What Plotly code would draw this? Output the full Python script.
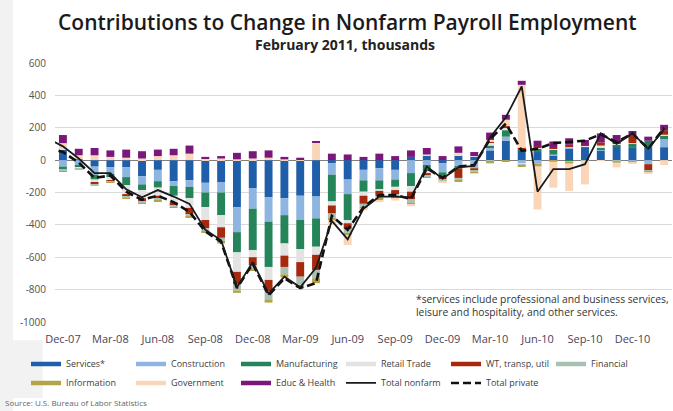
import pandas as pd
import plotly.graph_objects as go

# Monthly labels, Nov-07 .. Feb-11 (Nov-07 only carries the line values)
months = list(pd.date_range("2007-11-01", periods=40, freq="MS").strftime("%b-%y"))
bar_months = months[1:]

tick_labels = ["Dec-07", "Mar-08", "Jun-08", "Sep-08", "Dec-08", "Mar-09", "Jun-09",
               "Sep-09", "Dec-09", "Mar-10", "Jun-10", "Sep-10", "Dec-10"]

# Contributions by sector, thousands (Dec-07 .. Feb-11)
services = [65, 5, -40, -45, -45, -100, -60, -130, -125, -140, -135, -290, -175, -230, -235, -220,
            -225, -20, -120, -60, -50, -60, 20, 30, -20, 30, 20, 60, 120, 60, 50, 30, 70, 80, 60,
            85, 80, 80, 80]
construction = [-40, -30, -50, -40, -60, -50, -70, -30, -40, -60, -65, -155, -125, -150, -105, -150,
                -135, -70, -90, -65, -75, -60, -80, -30, -55, -40, -50, 15, 25, -20, -20, 5, 5, 0, 5,
                -5, -10, -25, 50]
manufacturing = [-20, -15, -30, -20, -50, -35, -40, -60, -70, -90, -140, -125, -255, -280, -175, -180,
                 -175, -165, -160, -70, -55, -45, -80, -40, -25, -10, 0, 15, 40, 10, 20, 30, -10, 5,
                 10, 10, 20, 40, 25]
retail = [5, -5, -20, -20, -55, -50, -50, -40, -60, -80, -75, -120, -45, -80, -75, -80, -50, -25, -20,
          -25, -10, -20, -35, -10, -10, 5, 5, 20, 15, -5, 5, 5, 5, 5, 15, 5, 5, 0, 2]
wt_transp_util = [0, 0, -10, -8, -15, -20, -20, -20, -40, -50, -65, -75, -50, -70, -70, -90, -95, -50,
                  -35, -50, -30, -25, -45, -15, -10, -60, -15, 5, 10, 5, 10, 10, 15, 5, 20, 5, 45,
                  -40, 28]
financial = [-8, -5, -5, -5, -10, -10, -10, -10, -15, -20, -25, -40, -25, -50, -45, -50, -50, -30, -25,
             -20, -20, -20, -25, -10, -10, -15, -10, -10, -5, -10, -10, -5, -5, -5, 0, -5, 0, -5, 0]
information = [-2, 0, 0, -2, -3, -3, -3, -5, -5, -8, -10, -15, -10, -20, -20, -20, -30, -10, -15, -10,
               -10, -10, -10, -5, -5, -5, -5, -10, -5, -5, -10, -5, -5, 0, 0, -5, -5, -5, 0]
government = [35, 25, 30, 20, 15, 10, 25, 30, 40, 10, 10, 5, 10, 15, 5, 5, 110, -30, -60, -10, -10,
              -10, -10, 5, -5, 10, -5, 10, 40, 390, -265, -160, -170, -145, -5, -30, -5, -5, -30]
educ_health = [50, 40, 45, 40, 50, 45, 40, 40, 50, 10, 15, 40, 45, 45, 15, 10, 5, 40, 35, 20, 40, 25,
               40, 40, 25, 40, 25, 45, 30, 25, 35, 35, 40, 30, 55, 50, 30, 25, 33]

# Totals, thousands (Nov-07 .. Feb-11)
total_nonfarm = [135, 85, 10, -80, -80, -180, -230, -185, -225, -270, -430, -495, -785, -630, -825,
                 -720, -785, -665, -375, -490, -300, -225, -225, -230, -40, -115, -45, -35, 140, 265,
                 455, -195, -55, -55, -25, 165, 100, 165, 70, 190]
total_private = [80, 50, -15, -110, -95, -195, -245, -220, -260, -320, -440, -505, -790, -640, -835,
                 -730, -790, -760, -345, -430, -290, -215, -215, -240, -50, -110, -40, -30, 130, 225,
                 58, 70, 105, 112, 120, 160, 110, 165, 70, 200]

series = [
    ("Services*", services, "#1f5ea8"),
    ("Construction", construction, "#8eb4e0"),
    ("Manufacturing", manufacturing, "#25845a"),
    ("Retail Trade", retail, "#e3e3e3"),
    ("WT, transp, util", wt_transp_util, "#a6290d"),
    ("Financial", financial, "#a9c1b5"),
    ("Information", information, "#b3a445"),
    ("Government", government, "#fbd5b7"),
    ("Educ & Health", educ_health, "#7a177b"),
]

fig = go.Figure()

for name, vals, color in series:
    fig.add_trace(go.Bar(x=bar_months, y=vals, name=name, width=0.5,
                         marker=dict(color=color, line=dict(width=0)),
                         legendgroup=name, showlegend=False))

# legend swatches drawn as thick lines
for rank, (name, vals, color) in enumerate(series, start=1):
    fig.add_trace(go.Scatter(x=[None], y=[None], mode="lines", name=name,
                             line=dict(color=color, width=4.5),
                             legendgroup=name, legendrank=rank))

fig.add_trace(go.Scatter(x=months, y=total_private, mode="lines", name="Total private",
                         line=dict(color="#111111", width=2.6, dash="8px,4px"), legendrank=11))
fig.add_trace(go.Scatter(x=months, y=total_nonfarm, mode="lines", name="Total nonfarm",
                         line=dict(color="#1a1a1a", width=1.8), legendrank=10))

y_ticks = list(range(-1000, 601, 200))

# faint slide backdrop along the left edge
backdrop = [
    dict(type="rect", xref="paper", yref="paper", layer="below", line=dict(width=0),
         fillcolor="#f2f2f2", x0=-0.0891, x1=-0.068, y0=-0.35, y1=1.25),
    dict(type="rect", xref="paper", yref="paper", layer="below", line=dict(width=0),
         fillcolor="#f2f2f2", x0=-0.0891, x1=-0.02, y0=-0.293, y1=-0.07),
]

fig.update_layout(
    width=673, height=411,
    margin=dict(l=55, r=1, t=63, b=89),
    paper_bgcolor="white", plot_bgcolor="white",
    barmode="relative",
    font=dict(family="Open Sans", color="#404040"),
    shapes=backdrop,
    xaxis=dict(type="category", categoryorder="array", categoryarray=months,
               range=[0.5, 39.5], tickmode="array", tickvals=tick_labels, ticktext=tick_labels,
               showgrid=False, ticks="", showline=False,
               tickfont=dict(size=11, color="#48455a"), ticklabelstandoff=9),
    yaxis=dict(range=[-1000, 600], tickmode="array", tickvals=y_ticks,
               ticktext=[str(v) for v in y_ticks],
               showgrid=True, gridcolor="#d9d9d9", gridwidth=1,
               zeroline=True, zerolinecolor="#7f7f7f", zerolinewidth=1.2,
               ticks="", tickfont=dict(size=10, color="#505050"), ticklabelstandoff=8),
    legend=dict(orientation="h", x=-0.047, xanchor="left", y=-0.106, yanchor="top",
                entrywidth=60, itemwidth=30, traceorder="normal",
                font=dict(size=9, color="#404040"), bgcolor="rgba(0,0,0,0)"),
    annotations=[
        dict(text="Contributions to Change in Nonfarm Payroll Employment",
             x=0.4733, y=1.158, xref="paper", yref="paper", showarrow=False,
             xanchor="center", yanchor="middle",
             font=dict(size=21, color="#1a1a1a", weight=600)),
        dict(text="<b>February 2011, thousands</b>",
             x=0.470, y=1.073, xref="paper", yref="paper", showarrow=False,
             xanchor="center", yanchor="middle", font=dict(size=14, color="#222222")),
        dict(text="*services include professional and business services,<br>"
                  "leisure and hospitality, and other services.",
             x=0.5818, y=0.062, xref="paper", yref="paper", showarrow=False,
             xanchor="left", yanchor="middle", align="left",
             font=dict(size=10.3, color="#333333")),
        dict(text="Source: U.S. Bureau of Labor Statistics",
             x=-0.0843, y=-0.3127, xref="paper", yref="paper", showarrow=False,
             xanchor="left", yanchor="middle", font=dict(size=8, color="#666666")),
    ],
)

fig.write_html("out.html")
